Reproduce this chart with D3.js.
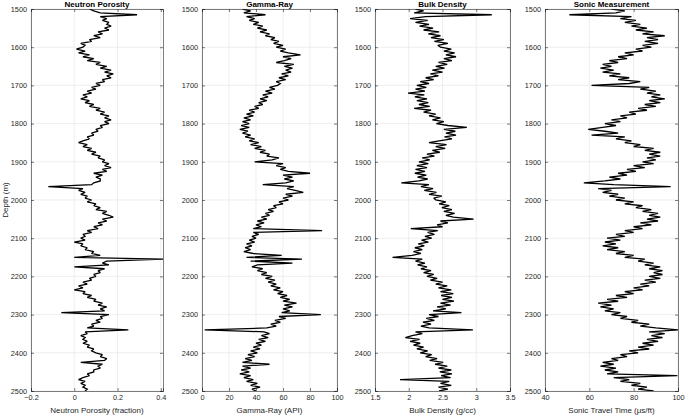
<!DOCTYPE html>
<html>
<head>
<meta charset="utf-8">
<script src="https://cdn.jsdelivr.net/npm/d3@7"></script>
<style>
  body { margin: 0; background: #fff; }
  svg { font-family: "Liberation Sans", Arial, Helvetica, sans-serif; }
</style>
</head>
<body>
<svg id="chart" width="685" height="415"></svg>
<script>
// depth samples, one every 5 m (1500..2500)
var depth = d3.range(1500, 2501, 5);

var neutronPorosity = [
  0.07, 0.09, 0.12, 0.29, 0.12, 0.15, 0.13, 0.16, 0.15, 0.17,
  0.14, 0.16, 0.11, 0.13, 0.09, 0.12, 0.07, 0.08, 0.03, 0.05,
  0.04, 0.01, 0.05, 0.02, 0.07, 0.04, 0.09, 0.06, 0.12, 0.10,
  0.15, 0.12, 0.17, 0.14, 0.18, 0.15, 0.17, 0.13, 0.14, 0.10,
  0.12, 0.08, 0.10, 0.06, 0.08, 0.04, 0.06, 0.03, 0.07, 0.05,
  0.09, 0.07, 0.12, 0.10, 0.14, 0.12, 0.16, 0.14, 0.17, 0.14,
  0.16, 0.12, 0.13, 0.10, 0.11, 0.08, 0.09, 0.06, 0.07, 0.04,
  0.02, 0.06, 0.04, 0.08, 0.06, 0.10, 0.08, 0.12, 0.11, 0.14,
  0.13, 0.16, 0.14, 0.17, 0.13, 0.15, 0.09, 0.13, 0.10, 0.12,
  0.12, 0.09, 0.08, -0.12, 0.04, 0.02, 0.05, 0.03, 0.06, 0.05,
  0.08, 0.06, 0.10, 0.09, 0.12, 0.10, 0.15, 0.13, 0.16, 0.18,
  0.13, 0.15, 0.11, 0.13, 0.09, 0.11, 0.06, 0.08, 0.04, 0.05,
  0.03, 0.05, 0.00, 0.04, 0.03, 0.06, 0.05, 0.09, 0.08, 0.12,
  0.00, 0.41, 0.15, 0.13, 0.16, 0.00, 0.14, 0.11, 0.12, 0.09,
  0.10, 0.07, 0.08, 0.04, 0.06, 0.02, 0.04, 0.00, 0.05, 0.04,
  0.08, 0.06, 0.10, 0.09, 0.13, 0.11, 0.15, 0.12, 0.14, -0.06,
  0.16, 0.12, 0.13, 0.10, 0.12, 0.08, 0.09, 0.06, 0.25, 0.05,
  0.06, 0.03, 0.05, 0.04, 0.06, 0.04, 0.07, 0.06, 0.09, 0.08,
  0.10, 0.13, 0.12, 0.15, 0.14, 0.03, 0.13, 0.11, 0.12, 0.09,
  0.09, 0.06, 0.07, 0.04, 0.02, 0.05, 0.03, 0.05, 0.04, 0.06,
  0.05
];

var gammaRay = [
  30, 36, 31, 47, 33, 39, 35, 42, 38, 45,
  41, 48, 43, 50, 47, 54, 51, 57, 53, 60,
  55, 62, 58, 64, 73, 60, 66, 61, 55, 68,
  61, 67, 62, 66, 59, 64, 57, 62, 55, 58,
  56, 50, 54, 47, 52, 45, 49, 43, 48, 42,
  45, 39, 42, 35, 39, 33, 38, 31, 36, 30,
  35, 29, 35, 28, 34, 30, 36, 32, 39, 35,
  42, 36, 44, 39, 47, 43, 50, 48, 57, 52,
  39, 60, 55, 62, 58, 64, 80, 60, 67, 61,
  68, 62, 45, 68, 63, 69, 75, 62, 67, 60,
  64, 57, 60, 53, 55, 49, 53, 47, 50, 44,
  48, 41, 46, 40, 44, 38, 89, 38, 42, 37,
  40, 35, 39, 33, 37, 32, 36, 31, 38, 59,
  33, 74, 36, 67, 41, 37, 45, 41, 48, 44,
  52, 47, 54, 49, 55, 51, 58, 53, 60, 56,
  63, 58, 65, 60, 70, 61, 67, 60, 65, 59,
  88, 57, 62, 54, 58, 51, 55, 48, 2, 46,
  50, 44, 49, 42, 47, 40, 44, 38, 43, 36,
  41, 34, 39, 32, 37, 30, 50, 30, 36, 29,
  35, 28, 36, 31, 38, 33, 41, 36, 43, 37,
  40
];

var bulkDensity = [
  2.10, 2.22, 2.08, 3.23, 2.25, 2.02, 2.28, 2.10, 2.30, 2.16,
  2.36, 2.22, 2.45, 2.29, 2.47, 2.33, 2.52, 2.38, 2.58, 2.43,
  2.47, 2.63, 2.52, 2.68, 2.55, 2.70, 2.52, 2.64, 2.44, 2.57,
  2.40, 2.53, 2.35, 2.50, 2.32, 2.44, 2.25, 2.37, 2.17, 2.30,
  2.12, 2.26, 2.10, 2.24, 1.99, 2.23, 2.09, 2.27, 2.12, 2.29,
  2.15, 2.31, 2.08, 2.33, 2.22, 2.40, 2.30, 2.47, 2.35, 2.52,
  2.41, 2.58, 2.86, 2.52, 2.69, 2.55, 2.70, 2.53, 2.64, 2.45,
  2.30, 2.56, 2.40, 2.54, 2.35, 2.46, 2.27, 2.38, 2.20, 2.31,
  2.15, 2.29, 2.12, 2.27, 2.10, 2.24, 2.09, 2.26, 2.13, 2.28,
  2.15, 1.89, 2.30, 2.18, 2.36, 2.23, 2.41, 2.30, 2.49, 2.37,
  2.40, 2.55, 2.45, 2.60, 2.49, 2.64, 2.52, 2.68, 2.55, 2.66,
  2.96, 2.47, 2.58, 2.42, 2.50, 2.03, 2.43, 2.28, 2.38, 2.24,
  2.34, 2.19, 2.29, 2.14, 2.23, 2.09, 2.20, 2.07, 2.18, 2.05,
  1.76, 2.20, 2.10, 2.24, 2.13, 2.27, 2.18, 2.33, 2.22, 2.37,
  2.27, 2.42, 2.32, 2.50, 2.40, 2.57, 2.44, 2.63, 2.47, 2.66,
  2.48, 2.64, 2.50, 2.67, 2.47, 2.62, 2.42, 2.55, 2.36, 2.78,
  2.30, 2.44, 2.26, 2.38, 2.21, 2.33, 2.18, 2.30, 2.95, 2.10,
  2.20, 2.05, 1.95, 2.16, 2.02, 2.17, 2.07, 2.22, 2.12, 2.28,
  2.17, 2.34, 2.25, 2.42, 2.31, 2.51, 2.39, 2.57, 2.44, 2.63,
  2.46, 2.64, 2.48, 2.62, 1.87, 2.60, 2.47, 2.63, 2.44, 2.58,
  2.45
];

var sonic = [
  70, 76, 72, 51, 79, 74, 81, 76, 83, 79,
  86, 81, 89, 84, 94, 86, 91, 85, 91, 84,
  88, 81, 84, 76, 80, 73, 77, 69, 73, 66,
  70, 65, 71, 66, 74, 69, 78, 73, 83, 78,
  61, 87, 83, 90, 86, 92, 88, 94, 87, 92,
  85, 90, 82, 86, 78, 81, 74, 77, 70, 74,
  67, 72, 66, 59.5, 67, 73, 61, 76, 72, 79,
  76, 83, 80, 89, 85, 92, 87, 92, 86, 90,
  84, 89, 80, 85, 77, 81, 73, 77, 69, 74,
  67, 57.5, 71, 96.7, 64, 70, 66, 73, 69, 76,
  72, 80, 76, 84, 81, 88, 84, 91, 87, 92,
  86, 91, 83, 88, 80, 84, 76, 80, 72, 76,
  68, 74, 67, 72, 66, 73, 68, 76, 72, 80,
  76, 85, 82, 89, 85, 92, 87, 93, 89, 93,
  87, 92, 85, 90, 83, 87, 80, 84, 76, 80,
  72, 77, 68, 73, 64, 70, 65, 71, 67, 74,
  70, 77, 74, 82, 79, 87, 83, 90, 100, 87,
  94, 88, 93, 86, 91, 84, 89, 82, 87, 78,
  82, 74, 77, 70, 73, 66, 71, 65, 72, 67,
  73, 68, 99.7, 71, 78, 74, 83, 79, 86, 82,
  89
];

var titles = ["Neutron Porosity", "Gamma-Ray", "Bulk Density", "Sonic Measurement"];
var xLabels = ["Neutron Porosity (fraction)", "Gamma-Ray (API)", "Bulk Density (g/cc)", "Sonic Travel Time (\u03bcs/ft)"];
var depthTicks = [1500, 1600, 1700, 1800, 1900, 2000, 2100, 2200, 2300, 2400, 2500];
var npTicks = [-0.2, 0, 0.2, 0.4];
var grTicks = [0, 20, 40, 60, 80, 100];
var rhoTicks = [1.5, 2, 2.5, 3, 3.5];
var dtTicks = [40, 60, 80, 100];

// subplot layout (pixels)
var panels = [
  { vals: neutronPorosity, ticks: npTicks, dom: [-0.2, 0.41], x0: 31, x1: 163 },
  { vals: gammaRay, ticks: grTicks, dom: [0, 100], x0: 202, x1: 337 },
  { vals: bulkDensity, ticks: rhoTicks, dom: [1.5, 3.5], x0: 375, x1: 510 },
  { vals: sonic, ticks: dtTicks, dom: [40, 100], x0: 545, x1: 678 }
];
var plotTop = 9, plotBottom = 391;
var axisCol = "#262626";

var svg = d3.select("#chart");

var y = d3.scaleLinear().domain([1500, 2500]).range([0, plotBottom - plotTop]);

panels.forEach(function(p, i) {
  var w = p.x1 - p.x0, h = plotBottom - plotTop;
  var x = d3.scaleLinear().domain(p.dom).range([0, w]);
  var g = svg.append("g").attr("transform", "translate(" + p.x0 + "," + plotTop + ")");

  g.append("clipPath").attr("id", "clip" + i)
    .append("rect").attr("width", w).attr("height", h);

  // grid
  g.append("g").selectAll("line").data(p.ticks).enter().append("line")
    .attr("x1", function(d) { return x(d); }).attr("x2", function(d) { return x(d); })
    .attr("y1", 0).attr("y2", h)
    .attr("stroke", "#e3e3e3").attr("stroke-width", 0.6);
  g.append("g").selectAll("line").data(depthTicks).enter().append("line")
    .attr("y1", function(d) { return y(d); }).attr("y2", function(d) { return y(d); })
    .attr("x1", 0).attr("x2", w)
    .attr("stroke", "#e3e3e3").attr("stroke-width", 0.6);

  // log curve
  var line = d3.line()
    .x(function(d) { return x(d); })
    .y(function(d, k) { return y(depth[k]); });
  g.append("path")
    .datum(p.vals)
    .attr("clip-path", "url(#clip" + i + ")")
    .attr("d", line)
    .attr("fill", "none")
    .attr("stroke", "#000")
    .attr("stroke-width", 1.3)
    .attr("stroke-linejoin", "miter")
    .attr("stroke-miterlimit", 2);

  // axes, ticks pointing inward on all sides
  var xb = g.append("g").attr("transform", "translate(0," + h + ")")
    .call(d3.axisBottom(x).tickValues(p.ticks).tickSize(-3).tickPadding(4).tickFormat(d3.format("")));
  var xt = g.append("g")
    .call(d3.axisTop(x).tickValues(p.ticks).tickSize(-3).tickFormat(""));
  var yl = g.append("g")
    .call(d3.axisLeft(y).tickValues(depthTicks).tickSize(-3).tickPadding(4).tickFormat(d3.format("d")));
  var yr = g.append("g").attr("transform", "translate(" + w + ",0)")
    .call(d3.axisRight(y).tickValues(depthTicks).tickSize(-3).tickFormat(""));

  [xb, xt, yl, yr].forEach(function(a) {
    a.attr("font-family", null);
    a.select(".domain").attr("stroke", axisCol).attr("stroke-width", 0.6);
    a.selectAll(".tick line").attr("stroke", axisCol).attr("stroke-width", 0.6);
    a.selectAll("text").attr("fill", axisCol).style("font-size", "7.3px");
  });

  // title
  g.append("text")
    .attr("x", w / 2).attr("y", -2)
    .attr("text-anchor", "middle")
    .style("font-size", "8px").style("font-weight", "bold")
    .attr("fill", "#000")
    .text(titles[i]);

  // x label
  g.append("text")
    .attr("x", w / 2).attr("y", h + 22)
    .attr("text-anchor", "middle")
    .style("font-size", "8px")
    .attr("fill", axisCol)
    .text(xLabels[i]);

  if (i === 0) {
    g.append("text")
      .attr("transform", "translate(" + (-23) + "," + (h / 2) + ") rotate(-90)")
      .attr("text-anchor", "middle")
      .style("font-size", "8px")
      .attr("fill", axisCol)
      .text("Depth (m)");
  }
});
</script>
</body>
</html>
